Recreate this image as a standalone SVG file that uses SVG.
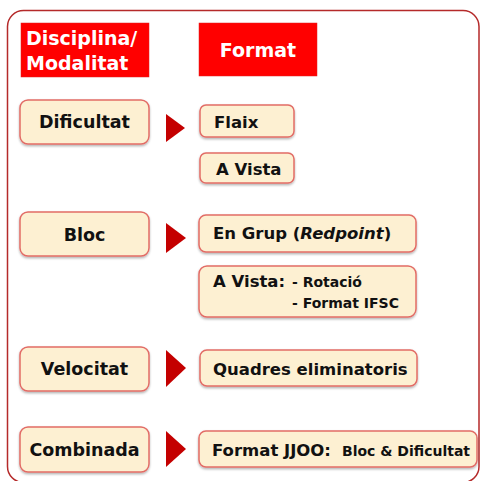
<svg xmlns="http://www.w3.org/2000/svg" width="480" height="481" viewBox="0 0 480 481">
<style>
.hdr{fill:#ff0000;stroke:#e02020;stroke-width:0.5}
.ht{font-family:"DejaVu Sans",sans-serif;font-weight:bold;font-size:19px;fill:#ffffff}
.box{fill:#fdf0d2;stroke:#e26c66;stroke-width:1.5;filter:url(#sh)}
.lt{font-family:"DejaVu Sans",sans-serif;font-weight:bold;font-size:17.5px;fill:#111111;text-anchor:middle}
.rt{font-family:"DejaVu Sans",sans-serif;font-weight:bold;font-size:16.5px;fill:#111111}
.st{font-family:"DejaVu Sans",sans-serif;font-weight:bold;font-size:14px;fill:#111111}
.tri{fill:#c40000}
</style>
<defs>
<filter id="sh" x="-10%" y="-20%" width="120%" height="150%">
<feDropShadow dx="0" dy="1.5" stdDeviation="1" flood-color="#000" flood-opacity="0.3"/>
</filter>
</defs>
<rect x="7.5" y="10.5" width="471.5" height="472" rx="16" fill="#ffffff" stroke="#b52a2a" stroke-width="1.5"/>
<g id="hdr-disciplina">
<rect class="hdr" x="21" y="23" width="128" height="54"/>
<text class="ht" x="26" y="45">Disciplina/</text>
<text class="ht" x="26" y="70">Modalitat</text>
</g>
<g id="hdr-format">
<rect class="hdr" x="199" y="23" width="118" height="53"/>
<text class="ht" x="258" y="57" text-anchor="middle">Format</text>
</g>
<g id="dificultat">
<rect class="box" x="20" y="100" width="129" height="44" rx="8"/>
<text class="lt" x="84.5" y="128">Dificultat</text>
</g>
<g id="bloc">
<rect class="box" x="20" y="212" width="129" height="44" rx="8"/>
<text class="lt" x="84.5" y="241">Bloc</text>
</g>
<g id="velocitat">
<rect class="box" x="20" y="347" width="129" height="44" rx="8"/>
<text class="lt" x="84.5" y="375">Velocitat</text>
</g>
<g id="combinada">
<rect class="box" x="20" y="427" width="129" height="45" rx="8"/>
<text class="lt" x="84.5" y="456">Combinada</text>
</g>
<g id="flaix">
<rect class="box" x="200" y="105" width="94" height="32" rx="6"/>
<text class="rt" x="214" y="128">Flaix</text>
</g>
<g id="avista1">
<rect class="box" x="200" y="153" width="94" height="30" rx="6"/>
<text class="rt" x="216" y="175">A Vista</text>
</g>
<g id="engrup">
<rect class="box" x="199" y="215" width="217" height="37" rx="7"/>
<text class="rt" x="213" y="239">En Grup (<tspan font-style="italic">Redpoint</tspan>)</text>
</g>
<g id="avista2">
<rect class="box" x="199" y="266" width="217" height="51" rx="8"/>
<text class="rt" x="213" y="287">A Vista:</text>
<text class="st" x="292" y="287">- Rotació</text>
<text class="st" x="292" y="308">- Format IFSC</text>
</g>
<g id="quadres">
<rect class="box" x="200" y="350" width="217" height="36" rx="7"/>
<text class="rt" x="213" y="375">Quadres eliminatoris</text>
</g>
<g id="jjoo">
<rect class="box" x="199" y="431" width="278" height="36" rx="7"/>
<text class="rt" x="212" y="456">Format JJOO:</text>
<text class="st" x="342" y="456">Bloc &amp; Dificultat</text>
</g>
<g id="connectors">
<polygon class="tri" points="166,114 185,128 166,142"/>
<polygon class="tri" points="166,223 186,238 166,253"/>
<polygon class="tri" points="166,350 186,368 166,387"/>
<polygon class="tri" points="166,431 186,449 166,467"/>
</g>
</svg>
